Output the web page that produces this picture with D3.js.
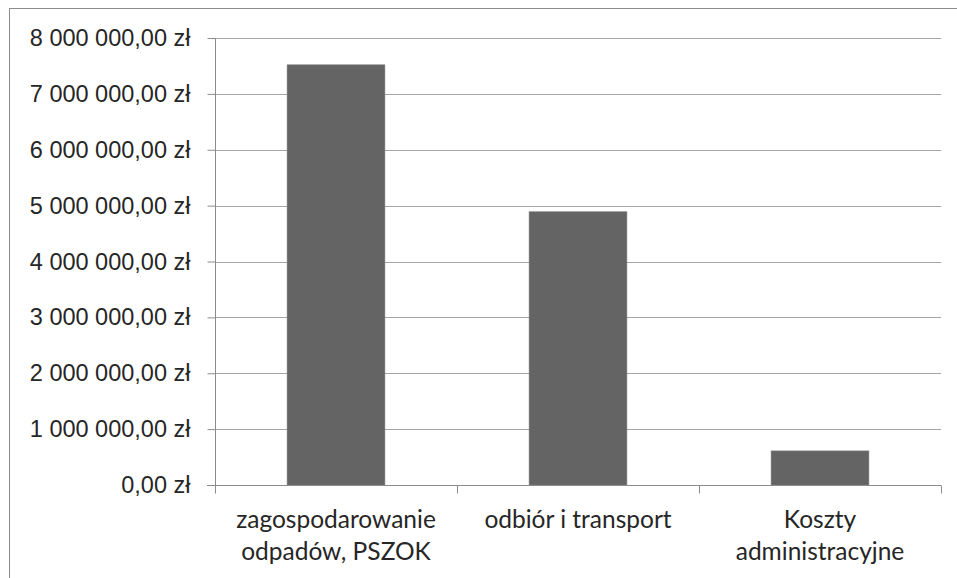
<!DOCTYPE html>
<html>
<head>
<meta charset="utf-8">
<script src="https://cdn.jsdelivr.net/npm/d3@7"></script>
<style>
  body { margin: 0; background: #fff; }
  svg { display: block; font-family: Lato, "Open Sans", sans-serif; }
</style>
</head>
<body>
<div id="chart"></div>
<script>
// chart data
const categories = ["zagospodarowanie odpadów, PSZOK", "odbiór i transport", "Koszty administracyjne"];
const labelLines = [["zagospodarowanie", "odpadów, PSZOK"], ["odbiór i transport"], ["Koszty", "administracyjne"]];
const values = [7520000, 4890000, 610000];
const yTicks = [0, 1000000, 2000000, 3000000, 4000000, 5000000, 6000000, 7000000, 8000000];

const W = 957, H = 578;
const margin = { top: 38, right: 16, bottom: 93, left: 215 };
const width = W - margin.left - margin.right;
const height = H - margin.top - margin.bottom;

const svg = d3.select("#chart").append("svg")
    .attr("width", W)
    .attr("height", H);

// outer frame (only top and left edges are visible in the crop)
svg.append("rect")
    .attr("x", 9.5).attr("y", 8.5)
    .attr("width", W + 10).attr("height", H + 10)
    .attr("fill", "none")
    .attr("stroke", "#8c8c8c");

const g = svg.append("g")
    .attr("transform", `translate(${margin.left},${margin.top})`);

const x = d3.scaleBand()
    .domain(categories)
    .range([0, width])
    .paddingInner(0.596)
    .paddingOuter(0.298);

const y = d3.scaleLinear()
    .domain([0, 8000000])
    .range([height, 0]);

const fmt = v => {
    const s = d3.format(",.2f")(v).replace(/,/g, " ").replace(".", ",");
    return s + " zł";
};

// gridlines
g.append("g")
    .selectAll("line")
    .data(yTicks.filter(d => d > 0))
    .enter()
    .append("line")
    .attr("x1", 0)
    .attr("x2", width)
    .attr("y1", d => Math.round(y(d)) + 0.5)
    .attr("y2", d => Math.round(y(d)) + 0.5)
    .attr("stroke", "#a6a6a6")
    .attr("stroke-width", 1);

// bars
g.selectAll(".bar")
    .data(values)
    .enter()
    .append("rect")
    .attr("class", "bar")
    .attr("x", (d, i) => x(categories[i]))
    .attr("y", d => y(d))
    .attr("width", x.bandwidth())
    .attr("height", d => height - y(d))
    .attr("fill", "#646464")
    .attr("stroke", "#7a7a7a")
    .attr("stroke-width", 0.6);

// y axis
const yAxis = g.append("g")
    .attr("transform", "translate(0.5,0)")
    .call(d3.axisLeft(y).tickValues(yTicks).tickFormat(fmt).tickSize(8).tickPadding(17));
yAxis.select(".domain").attr("stroke", "#8c8c8c").attr("d", `M0,0V${height}`);
yAxis.selectAll(".tick line").attr("stroke", "#8c8c8c");
yAxis.selectAll("text")
    .style("font-size", "23.5px")
    .attr("fill", "#262626");

// x axis
const xAxis = g.append("g")
    .attr("transform", `translate(0,${Math.round(height) + 0.5})`);
xAxis.append("line")
    .attr("x1", -8).attr("x2", width)
    .attr("stroke", "#8c8c8c");
const bounds = [0, width / 3, 2 * width / 3, width];
xAxis.selectAll(".sep")
    .data(bounds)
    .enter()
    .append("line")
    .attr("class", "sep")
    .attr("x1", d => Math.round(d) + 0.5)
    .attr("x2", d => Math.round(d) + 0.5)
    .attr("y1", 0)
    .attr("y2", 8)
    .attr("stroke", "#8c8c8c");

xAxis.selectAll(".cat")
    .data(categories)
    .enter()
    .append("text")
    .attr("class", "cat")
    .attr("x", d => x(d) + x.bandwidth() / 2)
    .attr("y", 42)
    .attr("text-anchor", "middle")
    .attr("fill", "#262626")
    .style("font-size", "24.5px")
    .each(function (d, i) {
        labelLines[i].forEach((t, j) => {
            d3.select(this).append("tspan")
                .attr("x", x(d) + x.bandwidth() / 2)
                .attr("dy", j === 0 ? 0 : 32)
                .text(t);
        });
    });
</script>
</body>
</html>
